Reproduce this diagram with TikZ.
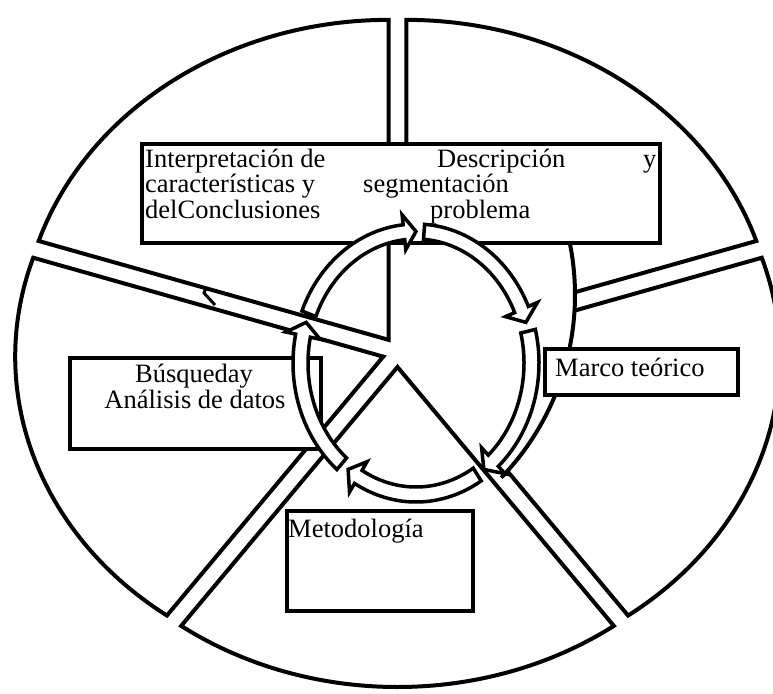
\documentclass[tikz,border=0pt]{standalone}
\usepackage{fontspec}
\setmainfont{Liberation Serif}
\usetikzlibrary{calc}
\tikzset{
  pie part/.style={draw=black,fill=white,line width=4pt,line join=miter},
  ring arrow/.style={draw=black,fill=white,line width=3.5pt,line join=miter},
  text frame/.style={draw=black,fill=white,line width=4pt,inner sep=0pt},
  body text/.style={inner sep=0pt,anchor=base west,font=\fontsize{26.5}{30}\selectfont},
  mid text/.style={body text,anchor=base},
}
\begin{document}
\begin{tikzpicture}[x=1pt,y=-1pt]
  \useasboundingbox (0,0) rectangle (773,693);
  \coordinate (hub) at (397.5,352);
  \coordinate (rc) at (416,363);
  % right-hand parts of the ring, cut by the inner curve
  \foreach \s in {270,342}{
    \coordinate (apex) at ([shift={(hub)}]\s+36:15);
    \draw[pie part] (apex) -- ([shift={(apex)}]\s:368 and 320)
      arc[start angle=\s,end angle=\s+72,x radius=368,y radius=320] -- cycle;
  }
  \begin{scope}
    \clip (400,200) rectangle (773,560);
    \fill[white] (312,295) circle[radius=263];
  \end{scope}
  \draw[line width=4pt] (312,295) ++(-11.5:263) arc[start angle=-11.5,end angle=44,radius=263];
  % the other three parts
  \foreach \s in {54,126,198}{
    \coordinate (apex) at ([shift={(hub)}]\s+36:15);
    \draw[pie part] (apex) -- ([shift={(apex)}]\s:368 and 320)
      arc[start angle=\s,end angle=\s+72,x radius=368,y radius=320] -- cycle;
  }
  \draw[line width=3pt] (206,288) -- (204,293) -- (215,305);

  % text boxes
  \node[text frame,minimum width=518pt,minimum height=99pt] (desc) at (401,193.5) {};
  \node[text frame,minimum width=193pt,minimum height=46pt] (marco) at (641.5,372) {};
  \node[text frame,minimum width=251pt,minimum height=91pt] (busq) at (195.5,403.5) {};
  \node[text frame,minimum width=186pt,minimum height=100pt] (metod) at (380,561) {};

  \node[body text] (interp) at (145,167) {Interpretación de};
  \node[body text] (caract) at (145,192) {características y};
  \node[body text] (concl) at (145,218) {delConclusiones};
  \node[body text] (descr) at (437,167) {Descripción};
  \node[body text] (descry) at (643,167) {y};
  \node[body text] (segm) at (363,192) {segmentación};
  \node[body text] (probl) at (430,218) {problema};
  \node[body text] (marcotxt) at (555,376) {Marco teórico};
  \node[mid text] (busqtxt) at (194,382) {Búsqueday};
  \node[mid text] (analtxt) at (195,408) {Análisis de datos};
  \node[body text] (metodtxt) at (288,537) {Metodología};

  % circular arrows
  \foreach \k in {0,...,4}{
    \pgfmathsetmacro\t{202+72*\k}
    \pgfmathsetmacro\h{270+72*\k}
    \pgfmathsetmacro\b{\h-6}
    \draw[ring arrow] ([shift={(rc)}]\t:123 and 139)
      arc[start angle=\t,end angle=\b,x radius=123,y radius=139]
      -- ([shift={(rc)}]\b:133 and 149) -- ([shift={(rc)}]\h:115.5 and 131.5)
      -- ([shift={(rc)}]\b:98 and 114) -- ([shift={(rc)}]\b:108 and 124)
      arc[start angle=\b,end angle=\t,x radius=108,y radius=124] -- cycle;
  }
\end{tikzpicture}
\end{document}
